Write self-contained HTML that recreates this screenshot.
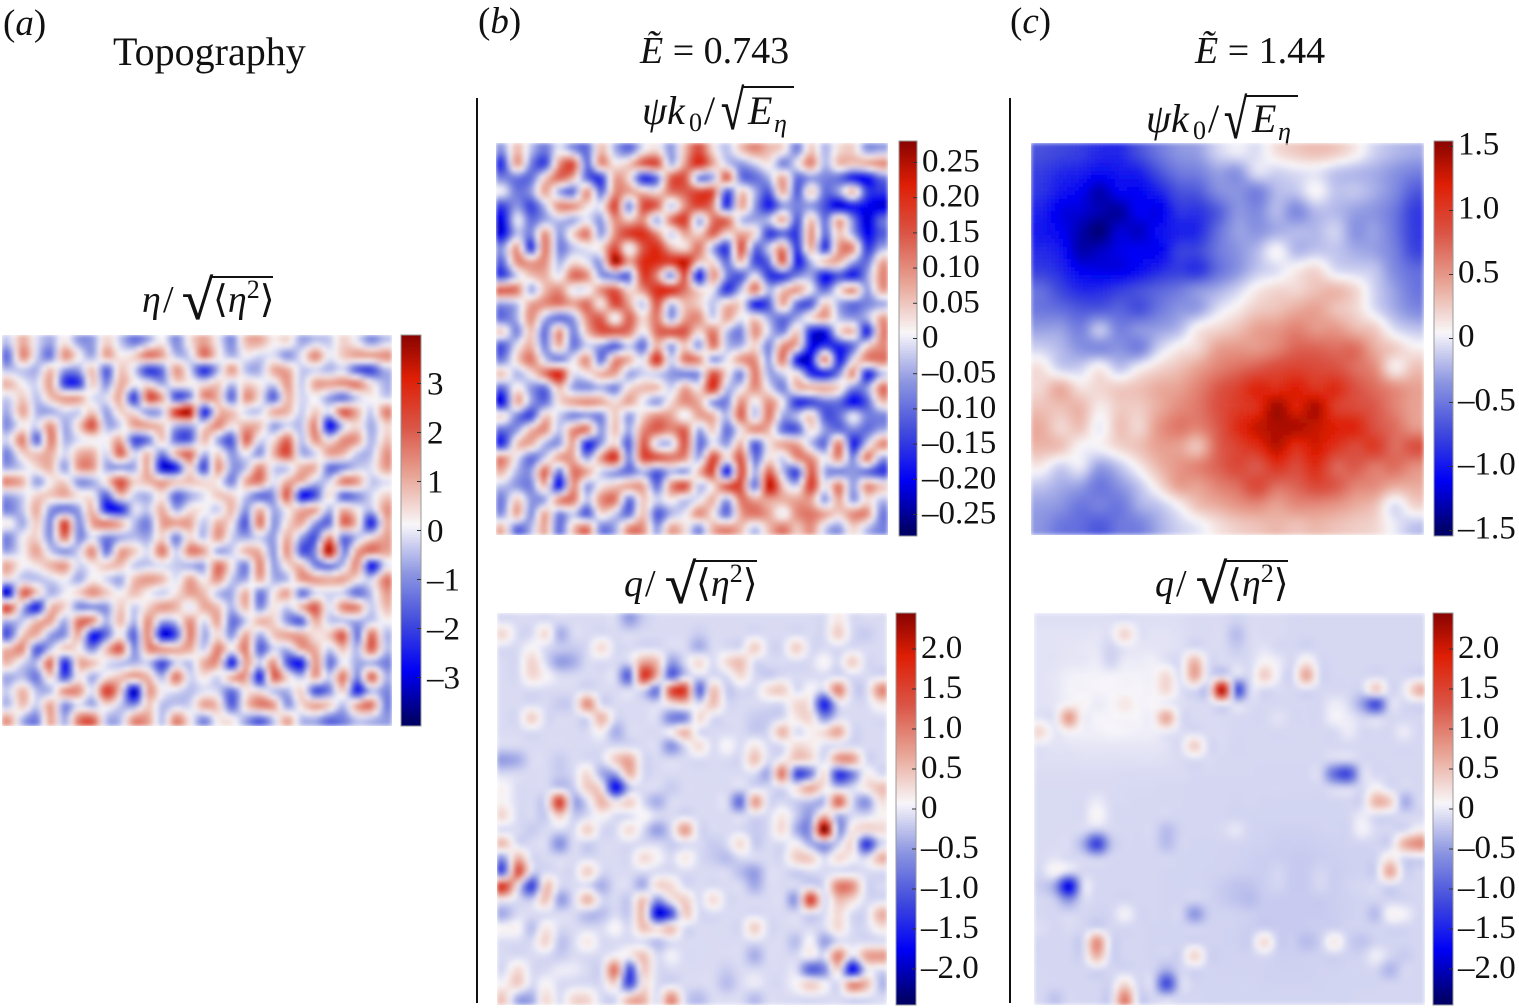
<!DOCTYPE html>
<html lang="en">
<head>
<meta charset="utf-8">
<title>Topography and flow fields</title>
<style>
html,body{margin:0;padding:0;background:#fff;}
svg{display:block;}
text{font-family:"Liberation Serif","DejaVu Serif",serif;fill:#111;}
.it{font-style:italic;}
</style>
</head>
<body>
<svg id="figure" xmlns="http://www.w3.org/2000/svg" width="1519" height="1008" viewBox="0 0 1519 1008">
  <defs>
    <filter id="soften" x="-2%" y="-2%" width="104%" height="104%"><feGaussianBlur stdDeviation="2"/></filter>
  </defs>
  <text x="3" y="35" font-size="37">(<tspan class="it">a</tspan>)</text>
  <text x="478" y="33" font-size="37">(<tspan class="it">b</tspan>)</text>
  <text x="1010" y="33" font-size="37">(<tspan class="it">c</tspan>)</text>
  <text x="113" y="65" font-size="40">Topography</text>
  <text x="640" y="63" font-size="38"><tspan class="it">Ẽ</tspan> = 0.743</text>
  <text x="1195" y="63" font-size="38"><tspan class="it">Ẽ</tspan> = 1.44</text>
  <line x1="477" y1="98" x2="477" y2="1003" stroke="#111" stroke-width="2"/>
  <line x1="1010" y1="98" x2="1010" y2="1003" stroke="#111" stroke-width="2"/>

  <g font-size="38">
    <text x="142" y="312" class="it">η</text><text x="163" y="312">/</text>
    <text x="182" y="319" font-size="56" textLength="31" lengthAdjust="spacingAndGlyphs" stroke="#111" stroke-width="0.6">√</text>
    <line x1="212" y1="277" x2="273" y2="277" stroke="#111" stroke-width="2"/>
    <text x="213" y="312">⟨<tspan class="it">η</tspan><tspan font-size="26" dy="-14">2</tspan><tspan dy="14">⟩</tspan></text>
  </g>
  <g font-size="40">
    <text x="642 667" y="124" class="it">ψk</text><text x="689" y="131" font-size="26">0</text><text x="704" y="124">/</text>
    <text x="721" y="129" font-size="56" textLength="23" lengthAdjust="spacingAndGlyphs" stroke="#111" stroke-width="0.6">√</text>
    <line x1="743" y1="87" x2="794" y2="87" stroke="#111" stroke-width="2"/>
    <text x="748" y="124" class="it">E</text><text x="774" y="132" font-size="26" class="it">η</text>
  </g>
  <g font-size="40">
    <text x="1146 1171" y="132" class="it">ψk</text><text x="1193" y="139" font-size="26">0</text><text x="1208" y="132">/</text>
    <text x="1224" y="138" font-size="56" textLength="23" lengthAdjust="spacingAndGlyphs" stroke="#111" stroke-width="0.6">√</text>
    <line x1="1246" y1="96" x2="1298" y2="96" stroke="#111" stroke-width="2"/>
    <text x="1252" y="132" class="it">E</text><text x="1278" y="140" font-size="26" class="it">η</text>
  </g>
  <g font-size="38">
    <text x="624" y="596" class="it">q</text><text x="645" y="596">/</text>
    <text x="665" y="603" font-size="56" textLength="31" lengthAdjust="spacingAndGlyphs" stroke="#111" stroke-width="0.6">√</text>
    <line x1="695" y1="561" x2="757" y2="561" stroke="#111" stroke-width="2"/>
    <text x="696" y="596">⟨<tspan class="it">η</tspan><tspan font-size="26" dy="-14">2</tspan><tspan dy="14">⟩</tspan></text>
  </g>
  <g font-size="38">
    <text x="1155" y="596" class="it">q</text><text x="1176" y="596">/</text>
    <text x="1196" y="603" font-size="56" textLength="31" lengthAdjust="spacingAndGlyphs" stroke="#111" stroke-width="0.6">√</text>
    <line x1="1226" y1="561" x2="1288" y2="561" stroke="#111" stroke-width="2"/>
    <text x="1227" y="596">⟨<tspan class="it">η</tspan><tspan font-size="26" dy="-14">2</tspan><tspan dy="14">⟩</tspan></text>
  </g>
  <g id="marks"></g>
</svg>
<script>
// Topography field, on a 28 x 28 grid
const etaValues = [
[-.3,.9,-.1,-.6,.3,-.7,-.7,.5,-.3,-1.1,-.5,.2,-.9,.3,1,.1,-.9,.7,.9,.2,.4,-.6,-.3,-.3,.5,0,-.8,-.3],
[-1.1,1.3,-.2,-1.1,1.2,.2,-.6,1,.2,.5,1.5,1,-.4,-.2,1.5,.3,-.5,.1,-.2,-.1,-.8,0,1.3,0,.6,1,1,1.2],
[-.4,-.3,-.5,.7,-.7,-.7,.7,-1.4,.6,-.2,-1.8,-1.2,1.1,-.2,-2,-.5,1.1,-.4,-.5,.9,.9,-.3,-.2,-.5,-.2,-1.4,-1.7,-.5],
[.8,.1,-.2,1,-1.8,-1.9,.6,-.9,.9,.1,.2,-.6,.3,.2,.2,.6,-.4,.5,.2,-.2,1.1,-.3,1,1,1.2,1.4,.3,-.5],
[-.2,.6,-.4,.7,1,1,-.1,-.1,.9,-1.9,1.9,1,-1.6,-.9,1.2,.8,-1.3,1.2,.3,-1.4,.8,-.2,.1,-.7,-1.2,-.3,.2,-.2],
[-.5,1,-.5,-.6,-.2,-.3,.6,-.7,.5,.2,-.8,-.4,2.3,3,-2.2,.6,.7,-.2,-.3,.9,.8,-.3,.6,-.1,1.8,.9,-.3,1.3],
[-.8,.2,-.2,1.2,-.6,.5,1.9,-.5,-.2,1,1,.6,-.5,-.6,.3,1.3,.2,.9,.7,-.7,-.2,-.4,1.3,-2.6,-.3,.4,-.6,.4],
[-.1,1.4,-1.4,1.4,-.5,-.1,.1,.1,.9,-1.6,-1.1,.6,-1.3,-1.4,.8,-.6,-1.5,1.7,-.1,.3,1.6,-.4,1.2,.1,1.2,1.1,-.5,.6],
[-.9,.5,.6,.9,-.2,.8,.9,-.2,1.7,-.2,.7,-1,.9,1.6,-.5,.5,-.8,.1,-.8,.8,2,-.5,-.2,1,.8,-.3,-.4,1.1],
[-.6,-.2,.4,.8,-.7,1.1,1.1,-.6,-.7,-.6,.9,-2.6,-2.2,.5,-1.7,1.2,-.7,-.4,1.3,-.2,-.3,.8,.8,-1.2,-.9,-.3,-.1,1],
[1.3,.8,-.7,.2,.5,-.8,-.6,.4,1.9,.5,.8,1,.6,.7,.4,.2,-1,.9,1.4,-.1,.9,.8,-.3,-.2,1.4,1.1,-.3,-.1],
[-.6,-.2,.5,.6,.9,.3,.2,-1.4,.7,-.3,-.5,.3,-1.3,-.6,-.1,.6,.5,-.3,-1.2,-.8,1.8,-2.4,-1.6,.4,-1.3,-.9,-.2,.5],
[-1,-.3,.9,-.8,-1.1,-.7,.8,-2.2,-2.2,-.1,-.3,.9,-.6,.3,.2,-.3,.8,-.8,.8,-.6,.2,.8,1,-.5,.8,.2,-.4,1.1],
[.2,-.6,.6,-.9,2.2,-.9,1,1.4,.9,-.4,-1,1,1,1,-.4,.9,.2,-1.5,1.5,-.8,.4,.9,-.8,-1.2,1.6,.6,-2.2,.7],
[-.9,.1,.5,-.8,1.5,-.9,-.1,-1,-.6,-.4,-.6,.5,-1,.4,-.4,1.1,-.2,-.6,-.2,-.7,.9,-.7,-1.5,1.3,-1.2,-.4,.3,1],
[-.6,.1,1,-.3,-.8,-.2,1.3,-1.2,1,.6,-.1,1.5,-.3,1.4,1,-.6,-.3,.8,.8,-.8,1.2,-1.5,-.8,3.2,-1,1,1.5,1],
[.9,.1,.3,.8,1.1,-.2,.2,.6,.7,-.3,-.3,-.1,-.3,-.5,-.6,1.5,.2,-1,1.3,-.7,.4,.7,-1,-1.1,-.4,1.2,-2.4,-.2],
[.1,-.3,-.4,-.2,.1,-.6,.2,-.2,-.6,.7,1.1,.8,-.1,1,.1,1.2,-.3,-.6,.9,-.5,-.4,1.1,1.1,.9,1,.3,-.2,1.4],
[-2.5,1.7,.6,-.5,0,.5,1.2,.6,.1,.7,.1,-.3,.3,1,.7,-.4,-.6,.9,-1.1,.2,1,-1.2,-.2,-.2,-.3,-1.2,-.4,1],
[1.9,-.5,-2.2,.7,.5,-.9,-.8,-.8,.6,-.3,.5,1.1,.8,-.1,.9,.7,-.5,.8,-.9,.3,-.3,.8,1.8,-.1,1.3,1.3,-.3,.7],
[-.5,-.3,.7,1,-.6,1.5,1.3,-.5,.8,-.5,1.2,-.6,-.3,1.2,-.2,1,-1.2,-.3,.8,.5,-.8,-1.4,.9,-.3,-.4,-.6,-.3,.1],
[-1.4,.6,.8,-.7,-.8,.9,-2.4,-1.2,.2,-1.4,1.3,-2.6,-1.6,1.4,-.6,.4,-.8,1,-.6,.6,1,1,.3,.6,1.8,-1.2,1.6,-.4],
[.8,1.2,-1.5,-.3,.6,.2,-.9,.7,1.8,-.9,1.2,1.2,.9,.9,-.3,1.4,.1,1.4,-1.4,-.2,-.5,.9,.9,-.3,.7,-.5,1.7,-.3],
[.7,-.2,-.4,1.6,-2.2,.8,.7,-.1,-.4,-.5,-.3,-1.7,-.2,-.4,.9,1,-2.3,1,-.3,1.2,-1.5,-2.3,1.2,-1.2,.1,-.6,-.5,-1],
[-.6,-.4,-1.1,.5,-1.6,.2,-.6,.3,.7,1,.8,-.5,1.5,-.2,.3,-.2,.9,1.1,-2.2,1.7,.4,-.4,1,-.3,1.5,-1,1.7,-.4],
[-.2,.8,-.4,-.4,1.2,1.2,-.1,2.2,.5,-3,1,.1,-.1,-.4,-.1,-.2,-1.2,.2,.2,-.4,-.5,.5,-1.6,-1,.5,-2.2,-.4,-.9],
[-.4,.7,-.3,1,-.9,-.1,-.6,.4,-.3,-.9,.6,-.4,-.3,-.2,1,.6,-1.4,.5,1.4,1.1,-.8,.4,1,.6,-.4,1,1.5,-.9],
[1,-.5,-1,1,-.6,1.4,1.7,-.4,-.4,1.2,1,-.4,1.3,.2,-.9,.2,.2,-.6,-1.3,-.3,.9,-.4,-.5,-1.2,-1,-.3,-.4,-.7]
];
// Streamfunction at E = 0.743
const psiLowValues = [
[-.06,.06,-.03,-.09,0,-.06,-.1,.06,-.04,-.1,0,.03,-.06,.06,.16,.03,-.03,.05,.1,.06,.03,-.08,.05,-.04,.03,.04,-.06,-.05],
[-.15,.09,-.08,-.14,.09,.16,-.1,.1,.02,.05,.14,.16,-.04,.09,.2,.08,-.02,-.06,-.02,.02,-.08,0,.11,-.04,.06,.05,.07,.1],
[-.08,-.09,-.1,.04,.13,.07,-.1,-.15,.08,.03,-.16,-.1,.14,.15,-.08,-.05,.14,-.09,-.1,-.04,.08,-.1,-.06,-.08,-.1,-.18,-.2,-.1],
[0,-.09,-.06,.08,-.05,-.1,.1,-.1,.1,.08,.06,.03,.12,.14,.17,.16,-.13,.05,-.04,-.12,.08,-.12,.05,-.1,-.05,.07,-.14,-.15],
[-.14,-.06,-.14,-.03,.1,.1,.03,0,.17,-.08,.16,.14,-.03,.1,.17,.1,-.16,.08,-.06,-.18,-.06,-.08,-.06,-.13,-.22,-.18,-.2,-.22],
[-.2,0,-.1,-.05,-.03,-.05,0,-.06,.1,.05,.1,-.05,.12,.18,-.05,.12,.13,-.03,-.05,-.03,.08,-.12,.06,-.1,.08,-.08,-.22,-.1],
[-.2,-.03,-.08,.1,-.06,.04,.12,-.06,.1,.18,.2,.1,-.02,.08,.04,.14,.03,.08,.03,-.15,-.1,-.15,.1,-.1,.05,-.05,-.2,-.12],
[-.06,.09,-.16,.12,-.08,-.03,0,.03,.16,0,.15,.2,.07,.03,.12,-.05,-.15,.16,-.1,-.02,.1,-.15,.08,-.16,.09,.1,-.15,-.05],
[-.1,.1,.08,.1,-.04,.03,0,-.05,.27,.08,.2,.2,.18,.24,.05,.03,-.1,.06,-.13,-.1,.14,-.18,-.04,.06,.07,-.05,-.1,.07],
[-.14,-.02,.05,.07,0,.13,.1,-.06,-.08,-.1,.18,.1,-.08,.16,-.2,.1,-.08,-.12,0,-.15,-.15,-.08,-.05,-.2,-.12,-.18,-.06,.1],
[.14,.12,-.05,.06,.1,0,0,.1,.15,.03,.1,.2,.2,.12,.03,0,-.16,-.03,.12,-.04,.05,.09,0,-.1,.02,.1,-.06,.08],
[-.06,-.03,.08,.1,.12,.08,.13,.02,.17,.08,-.03,.15,-.03,.06,.04,-.03,.05,.03,-.18,-.12,.08,-.1,-.12,.05,-.05,-.1,-.08,-.05],
[-.1,-.04,.1,-.04,-.1,-.06,.1,.14,0,.14,.03,.12,-.06,.08,.1,-.02,.08,0,.04,-.05,-.1,-.05,.03,.08,-.03,-.06,-.04,.08],
[.04,-.08,.06,-.1,.1,-.08,.06,.15,.15,.12,0,.13,.15,.15,.03,.12,-.03,-.08,.1,-.02,-.08,.05,-.18,-.2,.02,.06,-.18,.1],
[-.12,0,.07,-.08,.07,-.09,-.02,-.06,-.12,-.02,-.1,.07,-.06,.05,-.06,.12,-.03,-.04,.04,-.08,.1,.06,-.2,-.15,-.17,-.1,.03,.1],
[-.08,.04,.12,-.02,-.08,0,.1,-.1,.1,.07,0,.2,-.02,.12,.1,-.06,0,.09,.1,-.06,.12,-.2,-.2,.12,-.18,0,.1,.12],
[.05,-.04,.02,.12,.22,0,.02,.07,.08,-.05,-.02,-.02,-.06,-.08,-.06,.16,.03,-.08,.12,-.05,-.02,.02,-.16,-.18,-.08,.1,-.18,-.04],
[-.1,.02,-.06,-.1,.06,-.05,-.07,-.04,-.08,.03,.06,.06,-.02,.08,.02,.2,-.03,0,.1,0,-.08,.06,.07,.08,.04,-.08,-.06,.12],
[-.2,.08,-.05,-.1,.03,.08,.1,.08,.03,.08,0,-.06,.03,.1,.07,-.06,-.08,.1,0,.1,0,-.16,-.14,-.1,-.1,-.2,-.12,.05],
[.03,-.08,-.14,.05,-.02,-.08,-.06,-.08,.05,-.06,.04,.1,.08,0,.08,.07,-.04,.14,-.03,.12,-.05,-.03,.05,-.12,-.1,0,-.08,-.08],
[-.1,-.06,.06,.1,-.03,.1,.12,-.06,.06,-.05,.1,.14,.1,.14,-.05,.05,-.1,.02,.1,.06,-.1,-.12,.03,-.06,-.1,-.08,-.1,-.05],
[-.16,.05,.07,-.04,-.06,.08,-.18,-.06,.04,-.12,.15,-.02,-.03,.15,-.1,0,-.06,.07,-.12,.02,.08,.08,-.03,-.1,.12,-.18,-.02,.1],
[.1,0,-.1,-.02,.08,.08,-.06,.09,.2,-.08,.16,.15,.12,.1,-.05,.17,.02,.15,-.1,.03,-.02,.1,.1,0,.1,-.08,.12,-.05],
[.06,-.04,-.06,.14,-.1,.12,.08,-.02,-.06,-.1,-.04,-.12,-.04,-.06,.06,.16,-.2,.16,-.05,.14,-.03,-.14,.15,-.05,-.08,-.06,-.1,-.15],
[-.03,-.06,-.08,.06,-.2,.1,-.06,.02,.05,.08,.08,-.1,.1,.16,-.03,.03,.15,.16,-.1,.25,.05,-.02,.18,0,.12,-.06,.1,.05],
[-.08,.05,-.06,-.05,.1,.12,-.03,.1,.12,-.1,.05,-.02,.02,-.03,0,.07,-.06,.12,.08,.08,.07,.08,.08,-.06,.08,-.06,.03,-.03],
[-.06,.08,-.07,.08,-.08,-.02,-.12,.03,-.02,-.1,.06,-.12,-.04,0,.1,.02,-.1,.08,.12,.08,0,.1,.12,.08,.04,.1,.1,-.08],
[.06,-.1,-.04,.08,-.1,.05,.12,-.08,-.05,.1,.1,-.06,.08,.03,-.07,.07,.1,.06,-.03,.06,.12,.05,.1,-.02,-.06,.04,-.03,-.08]
];
// Potential vorticity at E = 0.743
const qLowValues = [
[-.1,-.1,-.1,-.1,-.1,-.1,-.1,-.1,-.1,-.5,-.2,-.1,-.1,-.1,-.1,-.1,-.1,-.1,-.1,-.1,-.1,-.1,-.1,-.1,.2,-.1,-.1,-.1],
[.3,-.1,-.1,.3,-.4,-.1,-.1,-.1,-.1,-.1,-.1,-.1,-.1,-.1,-.2,-.1,-.1,-.1,-.1,-.1,-.1,-.1,-.1,-.1,.4,-.1,-.2,-.1],
[-.1,-.1,.1,-.1,-.2,-.2,-.1,.3,-.1,-.1,-.1,-.1,-.1,-.1,-.4,-.1,-.1,-.1,.4,-.1,-.1,.4,-.1,-.1,-.1,-.1,-.1,-.1],
[-.1,-.1,.35,-.1,-.5,-.4,-.1,-.1,-.1,-.1,.7,.5,-.5,-.1,.3,-.1,.3,.5,-.1,-.1,-.1,-.1,-.1,.1,-.1,.4,-.1,-.1],
[-.1,-.1,.3,.1,-.1,-.1,-.1,-.1,-.1,-1,1.7,.6,-1,-.2,-.1,-.1,-.1,.3,-.1,-.2,-.1,-.1,-.1,-.1,-.1,-.1,-.1,-.1],
[-.1,-.1,-.1,-.1,-.1,-.1,-.1,-.1,-.1,-.1,-.1,-.8,1.4,1.6,-1,.5,-.2,-.1,-.1,.3,.4,-.1,.1,-.1,1,-.1,-.1,.9],
[-.1,-.1,-.1,-.1,-.2,-.1,.9,-.1,-.1,-.1,-.1,-.1,.2,.4,-.1,.5,-.1,-.1,-.1,-.1,-.1,.3,.1,-1.6,-.1,-.1,-.1,.2],
[-.1,-.1,.4,-.1,-.1,-.1,-.1,.6,-.1,-.1,-.1,-.1,-.7,-.7,.3,-.1,-.1,-.1,-.2,-.2,-.1,.2,.3,-.6,-.1,-.1,-.1,-.1],
[-.1,-.1,-.1,-.1,-.1,-.1,-.1,.1,-.4,-.1,-.1,-.1,.1,.6,-.1,-.1,-.1,-.1,-.2,-.1,.6,-.1,.1,.3,.7,-.1,-.1,-.1],
[-.1,-.1,-.1,-.1,-.1,-.1,-.1,-.1,-.1,-.1,-.1,-.1,-.6,-.1,.3,-.1,.1,-.1,.2,-.1,-.1,.3,.2,-.1,-.1,-.1,-.1,-.1],
[-.5,-.4,-.1,-.1,-.2,-.1,-.1,-.1,.4,.7,-.1,-.1,-.1,-.1,-.1,-.1,-.1,-.1,.5,-.1,.1,.4,.3,-.1,.8,.8,-.1,-.1],
[-.1,-.1,-.1,-.1,-.2,-.1,.3,-.4,-.5,.6,-.1,-.1,-.1,-.1,-.1,-.1,-.1,-.1,-.1,-.4,1.1,-1.2,-.8,.3,-1.4,-.8,.1,-.1],
[.1,-.1,-.1,-.1,-.2,-.2,.4,.2,-1.8,-.3,-.1,-.1,-.2,-.1,-.1,-.1,-.1,-.1,-.1,-.1,-.1,.2,.7,.2,-.2,-.1,.2,.5],
[.1,-.1,-.1,-.1,1.6,-.4,-.1,.6,.1,.4,-.1,-.4,-.1,-.1,-.1,-.1,-.1,-.9,.8,-.1,-.1,-.2,-.3,-.3,1.2,-.1,-.6,.2],
[.3,-.1,-.1,-.2,.4,-.2,-.1,.1,-.1,-.1,.1,-.1,-.1,-.1,-.1,-.1,-.1,-.1,-.1,-.1,.2,-.2,-.5,.6,-.4,-.1,-.1,.1],
[-.1,-.1,-.2,-.1,-.1,-.1,.4,-.1,-.1,.3,-.1,-.5,-.1,.8,-.1,-.1,-.1,-.1,-.2,-.1,.3,-.4,-.5,2.7,-.5,.2,.3,.3],
[.5,-.1,-.1,-.1,-.6,-.1,-.2,-.1,-.1,-.1,-.1,-.1,-.2,-.1,-.1,-.2,-.1,.3,-.2,-.1,-.1,.1,-.4,-.5,-.2,.3,-1.4,-.2],
[-.5,.6,-.1,-.1,-.1,-.1,-.1,-.1,-.1,-.1,.3,.1,-.1,.2,-.1,-.2,-.3,-.1,-.1,-.1,-.1,.4,.4,-.1,.3,.1,-.1,.6],
[-1,1.4,-.1,-.1,-.1,-.1,.4,-.1,-.1,-.1,-.1,-.1,-.1,-.1,-.1,-.1,-.1,-.3,-.5,-.1,-.1,-.2,-.1,-.1,-.1,-.1,-.1,-.1],
[1.6,.1,-1.3,.5,-.1,-.1,-.1,-.4,-.1,-.1,-.4,.3,.3,-.1,-.1,-.1,-.1,-.1,-.4,-.1,-.1,-.1,-.1,-.1,1,.9,-.1,-.1],
[.1,-.1,-.2,.5,-.5,-.1,.6,-.1,-.1,-.2,.5,-.6,.1,.4,-.1,.3,-.1,-.1,-.1,-.1,-.1,-.5,1.6,-.1,.5,.3,-.1,-.1],
[-.4,-.1,-.1,-.1,-.1,-.1,-.3,-.3,-.1,-.2,.5,-1.9,-1.2,.4,-.1,-.1,-.1,-.1,-.1,-.1,-.1,-.1,-.1,-.1,.3,-.1,-.1,.6],
[.1,.1,-.3,.2,-.1,-.1,-.1,-.1,.1,-.1,.5,.2,.5,-.1,-.1,-.1,-.1,-.1,.4,-.1,-.1,-.1,-.1,-.1,.3,-.1,-.1,.2],
[-.1,-.1,-.1,.35,-.25,-.1,.2,-.1,-.1,-.1,-.1,-.3,-.1,-.1,-.1,-.1,-.1,-.1,-.1,-.1,-.1,-.3,.1,-.5,-.1,-.1,-.1,-.1],
[-.1,-.1,-.1,-.1,-.2,-.1,-.1,-.1,.1,.1,.5,-.1,.05,-.1,-.1,-.1,-.1,-.1,-.4,-.1,-.1,-.1,.1,-.1,1,-.1,.7,.8],
[-.1,.3,-.1,-.1,0,0,-.1,-.1,1.1,-1.2,.4,-.1,-.1,-.1,-.1,-.1,-.2,-.1,-.1,-.1,-.1,-.1,-1,-.7,.3,-1.9,-.1,-.1],
[.1,.4,-.1,.1,-.1,-.1,-.1,-.1,.3,-1.2,.2,-.1,-.1,-.1,-.1,-.1,-.3,-.1,0,-.1,-.1,.1,.4,.1,-.1,.9,.6,-.3],
[.4,-.4,-.4,.3,-.1,.3,.3,-.1,-.1,.5,.6,-.1,.9,-.1,-.3,-.1,-.1,-.1,-.3,-.1,-.1,-.1,-.1,-.1,-.1,-.1,-.1,-.1]
];
// Streamfunction at E = 1.44, on a 20 x 20 grid
const psiHighValues = [
[-.7,-.75,-.8,-.9,-.9,-.7,-.5,-.35,-.3,-.1,0,-.05,.15,.25,.3,.25,.1,-.1,-.2,-.25],
[-.8,-.9,-.95,-1.05,-1,-.95,-.7,-.5,-.45,-.3,-.35,-.05,-.1,-.05,-.02,-.15,-.2,-.25,-.35,-.45],
[-.85,-1,-1.1,-1.3,-1.1,-1.1,-.95,-.7,-.65,-.4,-.35,-.45,-.2,-.15,.05,-.15,-.15,-.25,-.4,-.65],
[-.95,-1.15,-1.2,-1.3,-1.35,-1.1,-1.15,-.85,-.85,-.65,-.35,-.4,-.2,-.4,-.2,-.2,-.3,-.35,-.5,-.8],
[-1,-1.1,-1.3,-1.45,-1.2,-1.25,-1.05,-.95,-.9,-.55,-.3,-.35,-.25,-.2,-.2,-.1,-.35,-.3,-.5,-.8],
[-.9,-1,-1.3,-1.25,-1.15,-1.1,-1.1,-.8,-.75,-.5,-.35,-.2,.05,-.2,-.15,-.15,-.25,-.3,-.45,-.75],
[-.8,-.9,-1.1,-1.15,-1.15,-1.05,-.9,-.8,-.85,-.55,-.35,-.15,-.05,.1,.2,-.05,-.1,-.15,-.4,-.55],
[-.55,-.75,-.9,-.9,-.8,-.7,-.6,-.5,-.35,-.25,-.1,.1,.2,.2,.3,.35,.2,-.1,-.3,-.5],
[-.5,-.55,-.65,-.65,-.6,-.7,-.5,-.35,-.3,-.05,.1,.25,.3,.4,.45,.3,.2,-.05,-.25,-.4],
[-.3,-.3,-.45,-.15,-.45,-.35,-.3,-.2,.1,.2,.3,.45,.5,.6,.5,.5,.35,.25,-.05,-.15],
[-.1,-.2,-.35,-.4,-.35,-.45,-.1,.1,.2,.45,.5,.5,.6,.75,.75,.7,.7,.4,.25,.1],
[.15,-.1,-.1,.1,-.15,.05,.2,.3,.45,.6,.7,.8,.9,.95,.9,.85,.7,.55,.1,.3],
[.2,.4,.15,.2,.25,.3,.4,.45,.6,.8,.95,1.15,1.1,1.2,1.05,1.1,.85,.7,.55,.45],
[.3,.3,.35,.1,.25,.25,.4,.55,.65,.85,1,1.1,1.45,1.2,1.4,1,.9,.8,.6,.45],
[.4,.2,.3,0,.3,.2,.5,.65,.6,.8,1.1,1.3,1.4,1.4,1.3,1.2,1.15,.85,.7,.5],
[.35,.3,.05,.05,.2,.3,.45,.45,.3,.75,.95,1.1,1.35,1.1,1.25,1.05,.9,1,.7,.85],
[.1,-.1,0,-.3,-.15,.1,.35,.5,.6,.75,.9,.8,1.05,.9,1.1,.75,.8,.65,.7,.55],
[-.15,-.25,-.3,-.5,-.35,-.15,.15,.45,.45,.6,.7,.9,.7,.75,.9,.8,.6,.55,.4,.4],
[-.3,-.35,-.5,-.45,-.5,-.25,-.15,.05,.3,.4,.5,.55,.45,.55,.55,.5,.4,.3,-.05,.2],
[-.35,-.5,-.55,-.65,-.5,-.45,-.25,-.1,0,.15,.25,.3,.35,.3,.35,.3,.25,.2,0,-.15]
];
// Potential vorticity at E = 1.44
const qHighValues = [
[-.07,-.07,-.07,-.07,-.07,-.07,-.07,-.07,-.07,-.07,-.08,-.1,-.1,-.1,-.15,-.1,-.1,-.1,-.12,-.12,-.12,-.12,-.12,-.12,-.12,-.12,-.12,-.12],
[-.05,-.05,-.05,-.05,-.04,-.04,.35,-.04,-.05,-.05,-.07,-.1,-.1,-.1,-.3,-.1,-.1,-.1,-.12,-.12,-.12,-.12,-.12,-.12,-.12,-.12,-.12,-.12],
[-.05,-.05,-.04,-.03,-.03,-.15,-.03,-.03,-.04,-.05,-.07,-.1,-.1,-.1,-.2,-.1,-.05,-.12,-.12,-.15,-.12,-.12,-.12,-.12,-.12,-.12,-.12,-.12],
[-.05,-.05,-.03,-.03,0,-.15,0,0,.03,-.05,-.07,.6,-.08,-.1,-.1,-.1,.1,0,-.12,.2,-.12,-.12,-.12,-.12,-.12,-.12,-.12,-.12],
[-.05,-.03,.03,.05,.05,.05,.05,.05,.05,.3,-.07,.7,-.08,-.1,-.1,-.1,.4,0,-.12,.7,-.1,-.12,-.12,-.12,-.12,-.12,-.12,-.12],
[-.05,-.03,.05,.05,.06,.06,.06,.06,.06,.3,-.07,-.1,-.1,2.3,-1.1,-.1,-.12,-.1,-.12,-.1,-.12,-.12,-.12,-.12,.4,-.12,0,.6],
[-.05,-.03,.1,.1,0,.06,.2,.06,.06,0,-.07,-.1,-.1,0,-.1,-.1,-.12,-.12,-.12,-.12,-.12,0,-.1,-.5,-1.2,-.12,-.12,-.12],
[-.04,-.02,.8,.05,.06,.06,.06,.06,.06,.7,-.08,-.1,-.1,-.1,-.12,-.12,-.12,-.05,-.12,-.12,-.12,.05,0,-.12,-.12,-.12,-.12,-.12],
[.3,-.03,.1,.03,.03,.06,.05,.03,.02,0,-.08,-.1,-.1,-.1,-.12,-.12,-.12,-.12,-.12,-.12,-.12,-.12,0,-.12,-.12,-.12,0,-.12],
[-.05,-.05,-.04,-.03,-.03,-.03,-.03,-.03,-.03,-.05,-.08,.4,-.1,-.1,-.13,-.12,-.12,-.12,-.12,-.12,-.12,-.12,-.12,-.12,-.12,-.12,-.12,-.12],
[-.07,-.07,-.07,-.06,-.06,-.06,-.06,-.06,-.06,-.07,-.1,-.1,-.1,-.12,-.12,-.12,-.12,-.12,-.12,-.12,-.12,-.12,-.12,-.12,-.12,-.12,-.12,-.12],
[-.09,-.09,-.09,-.09,-.09,-.09,-.1,-.1,-.1,-.1,-.1,-.12,-.12,-.12,-.12,-.12,-.13,-.13,-.13,-.13,-.13,-.9,-1.2,-.12,-.12,-.12,-.12,-.12],
[-.1,-.1,-.1,-.1,-.1,-.1,-.11,-.11,-.11,-.12,-.12,-.13,-.13,-.13,-.13,-.13,-.13,-.12,-.13,-.13,-.13,-.13,-.13,-.12,.1,-.1,-.12,-.12],
[-.1,-.1,-.1,-.1,0,-.1,-.11,-.12,-.12,-.12,-.12,-.13,-.13,-.13,-.14,-.13,-.14,-.14,-.14,-.14,-.14,-.14,-.13,-.12,.6,.4,-.4,-.12],
[-.1,-.1,-.1,-.1,.1,-.1,-.12,-.12,-.12,-.12,-.13,-.13,-.13,-.13,-.14,-.14,-.14,-.14,-.14,-.14,-.14,-.14,-.13,0,-.1,-.12,-.12,-.12],
[-.1,-.1,-.1,-.1,-.2,-.12,-.12,-.12,-.12,-.3,-.15,-.13,-.13,-.1,-.03,-.14,-.15,-.16,-.16,-.16,-.15,-.14,-.14,.05,-.1,-.12,-.12,.1],
[-.1,-.1,-.1,-.4,-1.3,-.3,-.13,-.13,-.13,-.3,-.14,-.14,-.14,-.14,-.14,-.15,-.16,-.18,-.18,-.18,-.17,-.16,-.15,-.14,-.14,-.13,.6,.9],
[-.1,-.05,-.11,-.12,-.2,-.13,-.13,-.13,-.13,-.13,-.14,-.14,-.14,-.15,-.15,-.17,-.18,-.18,-.2,-.2,-.18,-.17,-.16,-.15,-.14,.2,-.12,-.12],
[-.11,.1,-.12,-.12,-.13,-.13,-.13,-.13,-.13,-.14,-.14,-.14,-.15,-.15,-.17,-.18,-.18,-.13,-.2,-.2,-.13,-.18,-.16,-.15,-.14,.7,-.12,-.12],
[-.2,-.5,-1.9,-.12,-.13,-.13,-.13,-.13,-.13,-.14,-.14,-.14,-.15,-.2,-.25,-.25,-.18,-.14,-.2,-.2,-.12,-.18,-.14,-.12,-.1,-.14,-.12,-.12],
[-.12,-.2,-.6,-.12,-.13,-.13,-.13,-.13,-.13,-.14,-.14,-.14,-.15,-.2,-.25,-.3,-.2,-.2,-.2,-.2,-.2,-.18,-.16,-.14,-.14,-.14,-.14,-.12],
[-.12,-.13,-.13,-.13,-.15,-.13,.05,-.13,-.13,-.14,-.14,-.55,-.2,-.15,-.16,-.18,-.2,-.2,-.2,-.2,-.2,-.18,-.16,-.15,-.3,.1,.05,-.12],
[-.08,-.13,-.1,-.13,-.13,-.13,-.13,-.13,-.14,-.14,-.14,-.14,-.15,-.15,-.16,-.18,-.18,-.2,-.2,-.2,-.18,-.16,-.15,-.15,-.14,-.14,-.14,-.13],
[-.13,-.13,-.13,-.13,.9,-.1,-.13,-.13,-.14,-.14,-.14,-.14,-.15,-.15,-.16,-.16,.3,-.18,-.18,-.3,-.17,.2,-.16,-.25,-.15,-.14,-.14,-.13],
[-.13,-.13,-.13,-.13,.6,-.13,-.13,-.13,-.14,-.14,-.14,.35,-.14,-.15,-.15,-.15,-.1,-.17,-.17,-.17,-.16,-.15,-.15,-.14,.02,-.14,-.2,-.13],
[-.12,-.13,-.13,-.13,-.13,-.13,-.13,-.13,-.14,-.4,-.14,-.14,-.14,-.15,-.15,-.15,-.15,-.16,-.16,-.16,-.15,-.15,-.14,-.14,-.14,-.35,-.13,-.13],
[-.12,-.13,-.13,-.13,-.13,-.13,.3,-.13,-.13,-1.2,-.14,-.14,-.14,-.14,-.14,-.14,-.15,-.15,-.15,-.15,-.15,-.14,-.14,-.14,-.14,-.14,-.13,-.13],
[-.12,-.25,-.12,-.13,-.13,-.13,1,-.13,-.13,-.13,-.13,-.13,-.14,-.14,-.14,-.14,-.14,-.14,-.14,-.14,-.14,-.14,-.14,-.13,-.13,-.13,-.13,-.13]
];
// Colourbar tick values
const etaTicks = [3,2,1,0,-1,-2,-3];
const etaTickLabels = ['3','2','1','0','–1','–2','–3'];
const psiLowTicks = [.25,.2,.15,.1,.05,0,-.05,-.1,-.15,-.2,-.25];
const psiLowTickLabels = ['0.25','0.20','0.15','0.10','0.05','0','–0.05','–0.10','–0.15','–0.20','–0.25'];
const psiHighTicks = [1.5,1,.5,0,-.5,-1,-1.5];
const psiHighTickLabels = ['1.5','1.0','0.5','0','–0.5','–1.0','–1.5'];
const qTicks = [2,1.5,1,.5,0,-.5,-1,-1.5,-2];
const qTickLabels = ['2.0','1.5','1.0','0.5','0','–0.5','–1.0','–1.5','–2.0'];

const NS = 'http://www.w3.org/2000/svg';
const marks = document.getElementById('marks');
const defs = document.querySelector('#figure defs');
const CELL = 4;
const WHITE_POINT = 0.03;
let clipCount = 0;

function mix(a, b, f) { return a + (b - a) * f; }
function ramp(stops, t) {
  const n = stops.length - 1;
  const p = Math.max(0, Math.min(n - 1e-6, t * n));
  const i = Math.floor(p);
  const f = p - i;
  return [0, 1, 2].map(function (c) { return Math.round(mix(stops[i][c], stops[i + 1][c], f)); });
}
const redRamp = [[248,246,248],[232,165,150],[218,85,70],[222,30,5],[125,0,0]];
const blueRamp = [[248,246,250],[140,150,225],[65,75,220],[0,0,245],[0,0,105]];
function colour(v, vmax) {
  const t = Math.max(-1, Math.min(1, v / vmax - WHITE_POINT));
  const c = t >= 0 ? ramp(redRamp, t) : ramp(blueRamp, -t);
  return 'rgb(' + c[0] + ',' + c[1] + ',' + c[2] + ')';
}
function catmull(p0, p1, p2, p3, f) {
  return 0.5 * (2 * p1 + (p2 - p0) * f + (2 * p0 - 5 * p1 + 4 * p2 - p3) * f * f + (3 * p1 - p0 - 3 * p2 + p3) * f * f * f);
}
function sample(m, gx, gy) {
  const rows = m.length, cols = m[0].length;
  const ix = Math.floor(gx), iy = Math.floor(gy);
  const fx = gx - ix, fy = gy - iy;
  const col = [];
  for (let j = -1; j <= 2; j++) {
    const r = m[Math.max(0, Math.min(rows - 1, iy + j))];
    const at = function (k) { return r[Math.max(0, Math.min(cols - 1, ix + k))]; };
    col.push(catmull(at(-1), at(0), at(1), at(2), fx));
  }
  return catmull(col[0], col[1], col[2], col[3], fy);
}
function drawHeatmap(name, m, x0, y0, w, h, vmax) {
  clipCount += 1;
  const clipId = 'panel-clip-' + clipCount;
  const clip = document.createElementNS(NS, 'clipPath');
  clip.setAttribute('id', clipId);
  const clipRect = document.createElementNS(NS, 'rect');
  clipRect.setAttribute('x', x0);
  clipRect.setAttribute('y', y0);
  clipRect.setAttribute('width', w);
  clipRect.setAttribute('height', h);
  clip.appendChild(clipRect);
  defs.appendChild(clip);

  const outer = document.createElementNS(NS, 'g');
  
  
  outer.setAttribute('clip-path', 'url(#' + clipId + ')');
  const g = document.createElementNS(NS, 'g');
  
  
  g.setAttribute('shape-rendering', 'crispEdges');
  g.setAttribute('filter', 'url(#soften)');
  const rows = m.length, cols = m[0].length;
  for (let py = 0; py < h; py += CELL) {
    for (let px = 0; px < w; px += CELL) {
      const gx = (px + CELL / 2) / w * cols - 0.5;
      const gy = (py + CELL / 2) / h * rows - 0.5;
      const rect = document.createElementNS(NS, 'rect');
      
      
      rect.setAttribute('x', x0 + px);
      rect.setAttribute('y', y0 + py);
      rect.setAttribute('width', Math.min(CELL, w - px));
      rect.setAttribute('height', Math.min(CELL, h - py));
      rect.setAttribute('fill', colour(sample(m, gx, gy), vmax));
      g.appendChild(rect);
    }
  }
  outer.appendChild(g);
  marks.appendChild(outer);
}
function drawColorbar(name, x0, y0, w, h, vmax, ticks, labels, labelX, labelDrop) {
  const g = document.createElementNS(NS, 'g');
  
  
  const yOf = function (v) { return y0 + h / 2 - v / vmax * h / 2; };
  for (let py = 0; py < h; py += 2) {
    const v = vmax - (py + 1) / h * 2 * vmax;
    const strip = document.createElementNS(NS, 'rect');
    
    
    strip.setAttribute('x', x0);
    strip.setAttribute('y', y0 + py);
    strip.setAttribute('width', w);
    strip.setAttribute('height', Math.min(2, h - py));
    strip.setAttribute('shape-rendering', 'crispEdges');
    strip.setAttribute('fill', colour(v, vmax));
    g.appendChild(strip);
  }
  const frame = document.createElementNS(NS, 'rect');
  
  
  frame.setAttribute('x', x0);
  frame.setAttribute('y', y0);
  frame.setAttribute('width', w);
  frame.setAttribute('height', h);
  frame.setAttribute('fill', 'none');
  frame.setAttribute('stroke', '#999');
  frame.setAttribute('stroke-width', '1');
  g.appendChild(frame);
  ticks.forEach(function (v, i) {
    const y = yOf(v);
    const tick = document.createElementNS(NS, 'line');
    
    
    tick.setAttribute('x1', x0 + w - 4);
    tick.setAttribute('x2', x0 + w);
    tick.setAttribute('y1', y);
    tick.setAttribute('y2', y);
    tick.setAttribute('stroke', '#333');
    tick.setAttribute('stroke-width', '1');
    g.appendChild(tick);
    const label = document.createElementNS(NS, 'text');
    
    
    label.setAttribute('x', labelX);
    label.setAttribute('y', y + labelDrop);
    label.setAttribute('font-size', 33);
    label.textContent = labels[i];
    g.appendChild(label);
  });
  marks.appendChild(g);
}

drawHeatmap('topography-heatmap', etaValues, 2, 335, 390, 391, 3.4);
drawHeatmap('psi-heatmap-low-energy', psiLowValues, 496, 143, 392, 392, 0.2805);
drawHeatmap('q-heatmap-low-energy', qLowValues, 497, 613, 390, 392, 2.45);
drawHeatmap('psi-heatmap-high-energy', psiHighValues, 1031, 143, 393, 392, 1.543);
drawHeatmap('q-heatmap-high-energy', qHighValues, 1034, 613, 391, 392, 2.45);

drawColorbar('topography-colorbar', 401, 335, 20, 391, 3.99, etaTicks, etaTickLabels, 427, 11);
drawColorbar('psi-colorbar-low-energy', 899, 141, 18, 395, 0.2805, psiLowTicks, psiLowTickLabels, 922, 9);
drawColorbar('q-colorbar-low-energy', 896, 613, 20, 392, 2.45, qTicks, qTickLabels, 921, 9);
drawColorbar('psi-colorbar-high-energy', 1434, 141, 19, 395, 1.543, psiHighTicks, psiHighTickLabels, 1458, 8);
drawColorbar('q-colorbar-high-energy', 1433, 613, 20, 392, 2.45, qTicks, qTickLabels, 1458, 9);
</script>
</body>
</html>
